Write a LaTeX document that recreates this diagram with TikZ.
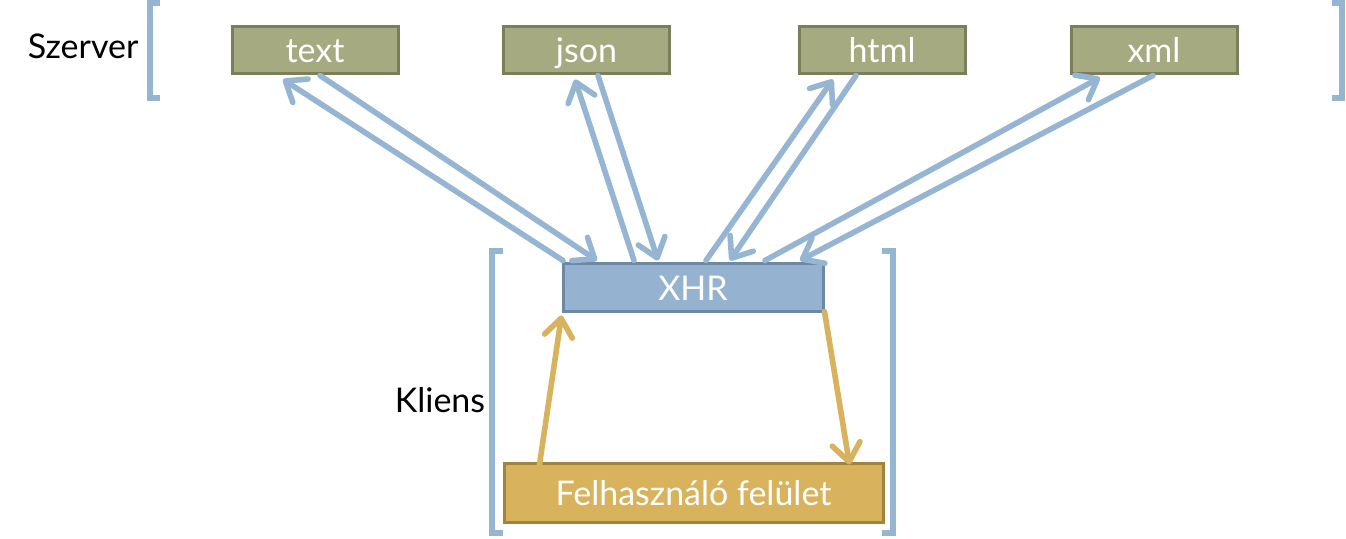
\documentclass[tikz,border=0pt]{standalone}
\usepackage{fontspec}
\setmainfont{Lato}
\usepackage{tikz}
\usetikzlibrary{arrows.meta,positioning}
\definecolor{srvcolor}{RGB}{165,170,128}
\definecolor{srvline}{RGB}{122,127,90}
\definecolor{xhrcolor}{RGB}{149,179,209}
\definecolor{xhrline}{RGB}{108,137,163}
\definecolor{uicolor}{RGB}{216,178,92}
\definecolor{uiline}{RGB}{160,132,64}
\definecolor{linkblue}{RGB}{149,181,211}

\begin{document}
\begin{tikzpicture}[x=0.5pt,y=-0.5pt,line width=2.8pt,
    >={Straight Barb[length=9pt,width=14pt,line cap=round,line join=round]}]
 \tikzstyle{every node}=[font=\fontsize{17}{20}\selectfont]
 \tikzstyle{boxtext}=[text=white,line width=1.5pt,inner sep=0pt,text height=14.5pt,text depth=2pt]
 \tikzstyle{format}=[boxtext,draw=srvline,fill=srvcolor,minimum width=83pt,minimum height=23.5pt]
 \tikzstyle{xhrbox}=[boxtext,draw=xhrline,fill=xhrcolor,minimum width=130pt,minimum height=24pt]
 \tikzstyle{uibox}=[boxtext,draw=uiline,fill=uicolor,minimum width=189.5pt,minimum height=29.5pt]
 \tikzstyle{bracket}=[draw=linkblue,line width=3pt,line cap=butt]
 \tikzstyle{req}=[->,draw=linkblue,line cap=round]
 \tikzstyle{ui}=[->,draw=uicolor,line cap=round]

   \useasboundingbox (0,0) rectangle (1346,539);

   % szerver oldal
   \node[format] (text) at (315,50.5) {text};
   \node[format] (json) at (586.5,50.5) {json};
   \node[format] (html) at (882,50.5) {html};
   \node[format] (xml) at (1154,50.5) {xml};
   \node[anchor=west,inner sep=0pt] (szerver) at (25,46) {Szerver};

   % kliens oldal
   \node[xhrbox] (xhr) at (693,288) {XHR};
   \node[uibox] (ui) at (693.5,493.5) {Felhasználó felület};
   \node[anchor=west,inner sep=0pt] (kliens) at (392,400) {Kliens};

   \draw[bracket] (160,3) -- (150,3) -- (150,98) -- (160,98);
   \draw[bracket] (1332,3) -- (1342,3) -- (1342,98) -- (1332,98);
   \draw[bracket] (503,251) -- (492,251) -- (492,533) -- (503,533);
   \draw[bracket] (882,251) -- (893,251) -- (893,533) -- (882,533);

   \path
   ([xshift=-65pt,yshift=1pt]xhr.north) edge[req] ([xshift=-16pt,yshift=-2pt]text.south)
   ([xshift=2.5pt]text.south) edge[req] ([xshift=-48pt,yshift=1pt]xhr.north)
   ([xshift=-29.5pt,yshift=1pt]xhr.north) edge[req] ([xshift=-5.75pt,yshift=-2pt]json.south)
   ([xshift=5.75pt]json.south) edge[req] ([xshift=-17.5pt,yshift=1pt]xhr.north)
   ([xshift=6.5pt,yshift=1pt]xhr.north) edge[req] ([xshift=-24.5pt,yshift=-2pt]html.south)
   ([xshift=-13pt]html.south) edge[req] ([xshift=18.5pt,yshift=1pt]xhr.north)
   ([xshift=36pt,yshift=1pt]xhr.north) edge[req] ([xshift=-27pt,yshift=-1pt]xml.south)
   ([xshift=-0.5pt]xml.south) edge[req] ([xshift=53.5pt,yshift=1pt]xhr.north)
   ([xshift=-77pt,yshift=-1pt]ui.north) edge[ui] ([yshift=-1pt]xhr.south west)
   ([yshift=1pt]xhr.south east) edge[ui] ([xshift=78pt,yshift=-1pt]ui.north);

\end{tikzpicture}
\end{document}
